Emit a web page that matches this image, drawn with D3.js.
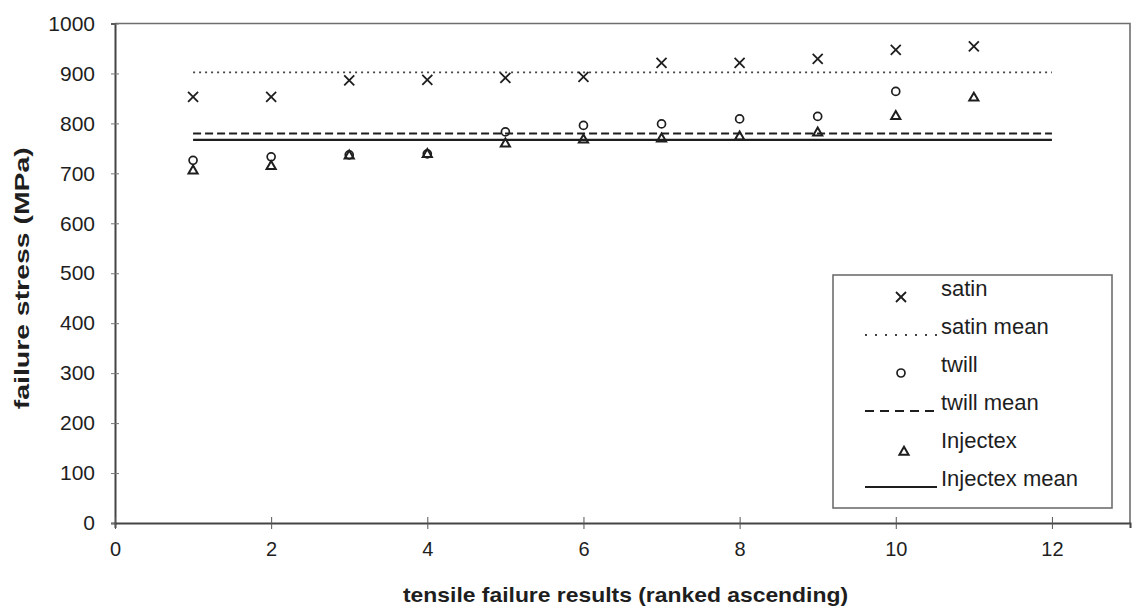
<!DOCTYPE html>
<html>
<head>
<meta charset="utf-8">
<script src="https://cdn.jsdelivr.net/npm/d3@7"></script>
<style>
  html, body { margin: 0; padding: 0; background: #fff; }
  svg { display: block; }
  text { font-family: "Liberation Sans", Arial, sans-serif; fill: #1e1e1e; }
</style>
</head>
<body>
<svg id="chart" width="1132" height="615"></svg>
<script>
// Ranked tensile failure stresses (MPa) for three fabric types
const satin    = [853, 853, 886, 887, 891, 893, 921, 921, 929, 947, 954];
const twill    = [726, 733, 737, 739, 783, 796, 799, 809, 814, 864];
const injectex = [705, 714, 735, 738, 759, 767, 769, 773, 781, 814, 851];

// Mean of each fabric, drawn as a horizontal reference line
const satinMean    = 902;
const twillMean    = 780;
const injectexMean = 767;
const meanSpan     = [1, 12];

const xTicks = [0, 2, 4, 6, 8, 10, 12];
const yTicks = [0, 100, 200, 300, 400, 500, 600, 700, 800, 900, 1000];

const legendLabels = ["satin", "satin mean", "twill", "twill mean", "Injectex", "Injectex mean"];

const svg = d3.select("#chart");
const plot = { left: 115, right: 1130, top: 23.5, bottom: 523 };

const x = d3.scaleLinear().domain([0, 13]).range([plot.left, plot.right]);
const y = d3.scaleLinear().domain([0, 1000]).range([plot.bottom, plot.top]);

const ink = "#1e1e1e";

// plot-area frame (top and right edges)
svg.append("path")
  .attr("d", `M${plot.left},${plot.top}H${plot.right}V${plot.bottom}`)
  .attr("fill", "none").attr("stroke", "#6e6e6e").attr("stroke-width", 1.6);

// y axis
const yAxis = svg.append("g").attr("transform", `translate(${plot.left},0)`)
  .call(d3.axisLeft(y).tickValues(yTicks).tickSize(4).tickPadding(16).tickFormat(d3.format("d")));
yAxis.select(".domain").attr("stroke", "#444").attr("stroke-width", 2);
yAxis.selectAll(".tick line").attr("stroke", "#777").attr("x2", 4).attr("x1", -4);
yAxis.selectAll(".tick text").attr("font-size", 21).attr("fill", ink)
  .attr("font-family", "'Liberation Sans', Arial, sans-serif");

// x axis
const xAxis = svg.append("g").attr("transform", `translate(0,${plot.bottom})`)
  .call(d3.axisBottom(x).tickValues(xTicks).tickSize(5).tickPadding(14).tickFormat(d3.format("d")));
xAxis.select(".domain").attr("stroke", "#444").attr("stroke-width", 2);
xAxis.selectAll(".tick line").attr("stroke", "#555").attr("y1", -6).attr("y2", 6);
xAxis.selectAll(".tick text").attr("font-size", 20).attr("fill", ink)
  .attr("font-family", "'Liberation Sans', Arial, sans-serif");

// axis titles
svg.append("text")
  .attr("transform", `translate(29,${(plot.top + plot.bottom) / 2 + 5}) rotate(-90)`)
  .attr("text-anchor", "middle").attr("font-weight", "bold").attr("font-size", 20)
  .attr("textLength", 262).attr("lengthAdjust", "spacingAndGlyphs")
  .text("failure stress (MPa)");

svg.append("text")
  .attr("x", (plot.left + plot.right) / 2 + 3).attr("y", 602)
  .attr("text-anchor", "middle").attr("font-weight", "bold").attr("font-size", 21)
  .attr("textLength", 445).attr("lengthAdjust", "spacingAndGlyphs")
  .text("tensile failure results (ranked ascending)");

// mean lines
const meanStyles = [
  { value: satinMean,    dash: "2,4", width: 1.8, color: "#444" },
  { value: twillMean,    dash: "8,4", width: 2,   color: ink },
  { value: injectexMean, dash: null,  width: 2.4, color: ink }
];
const line = d3.line().x(d => x(d[0])).y(d => y(d[1]));
meanStyles.forEach(s => {
  svg.append("path")
    .attr("d", line(meanSpan.map(v => [v, s.value])))
    .attr("fill", "none").attr("stroke", s.color)
    .attr("stroke-width", s.width)
    .attr("stroke-dasharray", s.dash);
});

// markers
const crossSym = d3.symbol(d3.symbolX, 67);
const circleSym = d3.symbol(d3.symbolCircle, 50);
const triSym = d3.symbol(d3.symbolTriangle2, 60);

function drawSeries(values, sym, width) {
  svg.append("g").selectAll("path").data(values).join("path")
    .attr("transform", (d, i) => `translate(${x(i + 1)},${y(d)})`)
    .attr("d", sym)
    .attr("fill", "none").attr("stroke", ink).attr("stroke-width", width);
}
drawSeries(satin, crossSym, 1.8);
drawSeries(twill, circleSym, 1.7);
drawSeries(injectex, triSym, 2);

// legend
const lg = svg.append("g");
lg.append("rect").attr("x", 833).attr("y", 275).attr("width", 279).attr("height", 233)
  .attr("fill", "#fff").attr("stroke", "#6e6e6e").attr("stroke-width", 1.6);

const rowY = legendLabels.map((_, i) => 296 + i * 38);
lg.selectAll("text").data(legendLabels).join("text")
  .attr("x", 941).attr("y", (d, i) => rowY[i])
  .attr("font-size", 22).text(d => d);

const symX = 901;
lg.append("path").attr("transform", `translate(${symX},${rowY[0] + 1})`).attr("d", crossSym)
  .attr("fill", "none").attr("stroke", ink).attr("stroke-width", 1.8);
lg.append("path").attr("transform", `translate(${symX},${rowY[2] + 1})`).attr("d", circleSym)
  .attr("fill", "none").attr("stroke", ink).attr("stroke-width", 1.7);
lg.append("path").attr("transform", `translate(${symX + 3},${rowY[4] + 4})`).attr("d", triSym)
  .attr("fill", "none").attr("stroke", ink).attr("stroke-width", 2);

const legendLines = [
  { row: 1, dash: "2,8", width: 1.8, color: "#444" },
  { row: 3, dash: "9,6", width: 2,   color: ink },
  { row: 5, dash: null,  width: 2.2, color: ink }
];
legendLines.forEach(l => {
  lg.append("line").attr("x1", 865).attr("x2", 937)
    .attr("y1", rowY[l.row] + 1).attr("y2", rowY[l.row] + 1)
    .attr("stroke", l.color).attr("stroke-width", l.width)
    .attr("stroke-dasharray", l.dash);
});
</script>
</body>
</html>
